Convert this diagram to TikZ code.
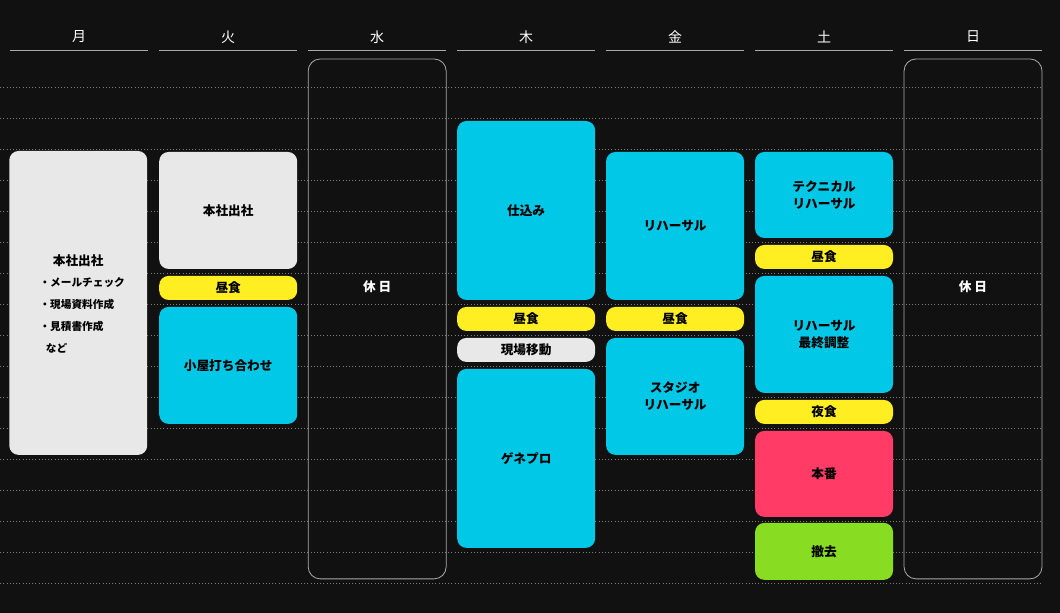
\documentclass[tikz,border=0pt]{standalone}
\usepackage{fontspec}
\setmainfont{Noto Sans CJK JP}
\definecolor{bgdark}{HTML}{111111}
\definecolor{slotcyan}{HTML}{00C8E6}
\definecolor{slotyellow}{HTML}{FFEE22}
\definecolor{slotpink}{HTML}{FF3B66}
\definecolor{slotgreen}{HTML}{88DD22}
\definecolor{slotgray}{HTML}{E8E8E8}
\definecolor{rulegray}{HTML}{AAAAAA}
\tikzset{
  slot/.style={rounded corners=7pt, inner sep=0pt, align=center,
    font=\fontsize{9.5}{13}\selectfont\bfseries, text=black},
  offday/.style={draw=rulegray, rounded corners=9pt, line width=0.6pt},
  dayhead/.style={text=white, font=\fontsize{10.5}{13}\selectfont}
}
% box from (x1,y1) to (x2,y2) in pixels
\newcommand{\slotbox}[7]{%
  \fill[#6, rounded corners=7pt] (#2,#3) rectangle (#4,#5);
  \node[slot] (#1) at ({(#2+#4)/2},{(#3+#5)/2}) {#7};}
\begin{document}
\begin{tikzpicture}[x=0.75pt,y=-0.75pt]
  \fill[bgdark] (0,0) rectangle (1060,613);

  % grid
  \foreach \row in {0,...,16}
    \draw[white!45!bgdark, dotted] (0,{87+31*\row}) -- (1042,{87+31*\row});

  % days
  \foreach \day [count=\i from 0] in {月,火,水,木,金,土,日} {
    \node[dayhead] (head\i) at ({79+149*\i},37) {\day};
    \draw[rulegray, line width=0.6pt] ({10+149*\i},50) -- ({148+149*\i},50);
  }

  % Mon
  \fill[slotgray, rounded corners=7pt] (9,151) rectangle (147,455);
  \node[slot] (monmain) at (78,261) {本社出社};
  \node[slot, font=\fontsize{8}{16.5}\selectfont\bfseries, align=left, anchor=north west]
    (monlist) at (39,277) {・メールチェック\\・現場資料作成\\・見積書作成\\\hspace*{0.6em}など};

  % Tue
  \slotbox{tueoffice}{159}{152}{297}{269}{slotgray}{本社出社}
  \slotbox{tuelunch}{159}{276}{297}{300}{slotyellow}{昼食}
  \slotbox{tuemeet}{159}{307}{297}{424}{slotcyan}{小屋打ち合わせ}

  % Wed
  \draw[offday] (308,59) rectangle (446,579);
  \node[slot, text=white] (wedoff) at (377,287) {休 日};

  % Thu
  \slotbox{thusetup}{457}{121}{595}{300}{slotcyan}{仕込み}
  \slotbox{thulunch}{457}{307}{595}{331}{slotyellow}{昼食}
  \slotbox{thumove}{457}{338}{595}{362}{slotgray}{現場移動}
  \slotbox{thugp}{457}{369}{595}{548}{slotcyan}{ゲネプロ}

  % Fri
  \slotbox{frireh}{606}{152}{744}{300}{slotcyan}{リハーサル}
  \slotbox{frilunch}{606}{307}{744}{331}{slotyellow}{昼食}
  \slotbox{fristudio}{606}{338}{744}{455}{slotcyan}{スタジオ\\リハーサル}

  % Sat
  \slotbox{sattech}{755}{152}{893}{238}{slotcyan}{テクニカル\\リハーサル}
  \slotbox{satlunch}{755}{245}{893}{269}{slotyellow}{昼食}
  \slotbox{satfinal}{755}{276}{893}{393}{slotcyan}{リハーサル\\最終調整}
  \slotbox{satsupper}{755}{400}{893}{424}{slotyellow}{夜食}
  \slotbox{satshow}{755}{431}{893}{517}{slotpink}{本番}
  \slotbox{satstrike}{755}{523}{893}{580}{slotgreen}{撤去}

  % Sun
  \draw[offday] (904,59) rectangle (1042,579);
  \node[slot, text=white] (sunoff) at (973,287) {休 日};
\end{tikzpicture}
\end{document}
